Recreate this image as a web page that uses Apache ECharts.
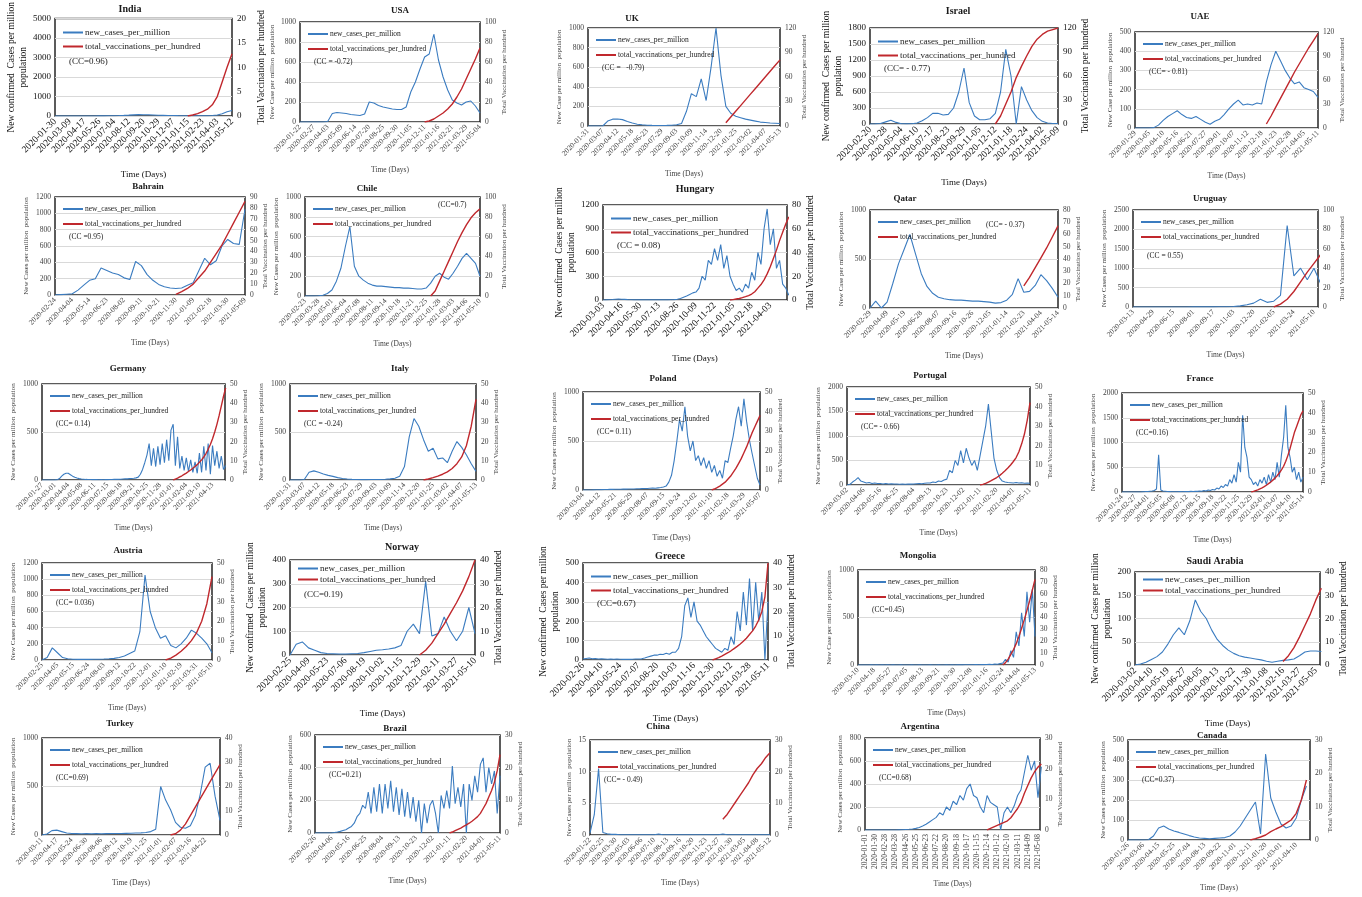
<!DOCTYPE html>
<html><head><meta charset="utf-8">
<script src="https://cdn.jsdelivr.net/npm/echarts@6/dist/echarts.min.js"></script>
<style>html,body{margin:0;padding:0;background:#fff}#c{width:1362px;height:897px}</style>
</head><body><div id="c"></div>
<script>
// ---------------- DATA ----------------
const countries = ['India','USA','UK','Israel','UAE','Bahrain','Chile','Hungary','Qatar','Uruguay','Germany','Italy','Poland','Portugal','France','Austria','Norway','Greece','Mongolia','Saudi Arabia','Turkey','Brazil','China','Argentina','Canada'];

const ticksIndia = ['2020-01-30','2020-03-09','2020-04-17','2020-05-26','2020-07-04','2020-08-12','2020-09-20','2020-10-29','2020-12-07','2021-01-15','2021-02-23','2021-04-03','2021-05-12'];
const casesIndia = [0,0,0, 0,0,0, 1,1,2, 4,6,9, 15,22,32, 45,60,70, 68,64,55, 40,34,28, 23,18,14, 11,10,10, 10,12,22, 50,120,220, 285];
const vaxIndia = [0,0.2,0.5,0.9,1.4,2.3,4,7,10,12.8];

const ticksUSA = ['2020-01-22','2020-02-27','2020-04-03','2020-05-09','2020-06-14','2020-07-20','2020-08-25','2020-09-30','2020-11-05','2020-12-11','2021-01-16','2021-02-21','2021-03-29','2021-05-04'];
const casesUSA = [0,0,0, 0,0,0, 5,85,95, 90,85,75, 70,65,80, 200,190,165, 150,140,130, 125,125,150, 300,400,530, 650,680,880, 620,450,320, 220,190,170, 200,210,160, 90];
const vaxUSA = [0,1,3,6,9,13,18,25,33,43,53,63,74];

const ticksUK = ['2020-01-31','2020-03-07','2020-04-12','2020-05-18','2020-06-23','2020-07-29','2020-09-03','2020-10-09','2020-11-14','2020-12-20','2021-01-25','2021-03-02','2021-04-07','2021-05-13'];
const casesUK = [0,0,0, 0,50,70, 72,65,45, 30,18,12, 8,6,5, 5,6,8, 12,25,150, 330,300,480, 260,600,1000, 520,200,130, 100,85,70, 60,50,40, 35,30,28, 25];
const vaxUK = [4,11,18,25,32,39,46,53,60,67,74,81];

const ticksIsrael = ['2020-02-20','2020-03-28','2020-05-04','2020-06-10','2020-07-17','2020-08-23','2020-09-29','2020-11-05','2020-12-12','2021-01-18','2021-02-24','2021-04-02','2021-05-09'];
const casesIsrael = [0,2,10, 40,70,30, 5,3,5, 20,60,120, 200,200,170, 180,300,600, 1050,400,150, 80,80,100, 200,600,1400, 900,0,700, 450,250,120, 50,20,10, 8];
const vaxIsrael = [0,10,25,40,58,72,85,97,106,112,116,118,120];

const ticksUAE = ['2020-01-29','2020-03-05','2020-04-10','2020-05-16','2020-06-21','2020-07-27','2020-09-01','2020-10-07','2020-11-12','2020-12-18','2021-01-23','2021-02-28','2021-04-05','2021-05-11'];
const casesUAE = [0,0,0, 0,2,15, 40,60,75, 90,70,55, 50,60,45, 30,20,35, 45,70,100, 125,145,120, 125,120,130, 125,240,330, 400,350,300, 260,230,240, 210,200,190, 160];
const vaxUAE = [5,15,26,37,48,59,70,80,90,100,109,118];

const ticksBahrain = ['2020-02-24','2020-04-04','2020-05-14','2020-06-23','2020-08-02','2020-09-11','2020-10-21','2020-11-30','2021-01-09','2021-02-18','2021-03-30','2021-05-09'];
const casesBahrain = [0,5,10, 15,60,120, 180,200,330, 300,270,250, 210,190,410, 360,250,180, 130,100,85, 80,85,120, 150,300,450, 370,420,600, 680,630,620, 1050];
const vaxBahrain = [0.5,3,6,10,16,22,30,38,46,56,66,76,86];

const ticksChile = ['2020-02-23','2020-03-28','2020-05-01','2020-06-04','2020-07-08','2020-08-11','2020-09-14','2020-10-18','2020-11-21','2020-12-25','2021-01-28','2021-03-03','2021-04-06','2021-05-10'];
const casesChile = [0,0,0, 2,8,25, 60,150,280, 500,700,300, 200,160,130, 110,100,100, 95,90,85, 85,80,80, 75,70,70, 80,130,200, 230,190,170, 230,300,380, 430,380,330, 200];
const vaxChile = [0,5,15,25,35,45,55,64,72,79,84,88];

const ticksHungary = ['2020-03-03','2020-04-16','2020-05-30','2020-07-13','2020-08-26','2020-10-09','2020-11-22','2021-01-05','2021-02-18','2021-04-03'];
const casesHungary = [0,1,3,6,10,12, 10,8,5,3,2,2, 2,1,1,1,1,1, 1,1,2,2,3,5, 10,20,35,50,70,90, 100,150,300,250,500,450, 650,500,700,400,560,300, 200,120,150,100,200,150, 350,250,600,450,900,1150, 700,900,400,500,200,150, 60];
const vaxHungary = [0,0.3,0.8,1.3,2,2.8,3.7,5,7,10,13,17,22,28,35,42,50,57,64,70];

const ticksQatar = ['2020-02-29','2020-04-09','2020-05-19','2020-06-28','2020-08-07','2020-09-16','2020-10-26','2020-12-05','2021-01-14','2021-02-23','2021-04-04','2021-05-14'];
const casesQatar = [0,70,0, 60,250,450, 600,750,550, 350,220,150, 110,95,85, 80,80,75, 70,70,65, 60,50,55, 80,140,300, 160,170,230, 340,280,200, 110];
const vaxQatar = [18,25,33,41,49,58,67];

const ticksUruguay = ['2020-03-13','2020-04-29','2020-06-15','2020-08-01','2020-09-17','2020-11-03','2020-12-20','2021-02-05','2021-03-24','2021-05-10'];
const casesUruguay = [0,0,0, 1,1,1, 1,1,1, 2,2,3, 4,5,8, 12,30,60, 100,200,120, 150,300,2100, 800,1000,700, 1000,600];
const vaxUruguay = [0,3,8,16,26,36,45,54];

const ticksGermany = ['2020-01-27','2020-03-01','2020-04-04','2020-05-08','2020-06-11','2020-07-15','2020-08-18','2020-09-21','2020-10-25','2020-11-28','2021-01-01','2021-02-04','2021-03-10','2021-04-13'];
const casesGermany = [0,0,0,0,0,0, 1,3,15,40,60,70, 70,55,40,28,20,14, 10,8,6,5,5,4, 4,4,3,4,3,4, 4,5,5,6,6,7, 8,10,12,12,14,15, 18,22,30,60,110,180, 260,380,150,330,140,350, 160,380,180,420,200,520, 580,150,450,120,250,100, 230,90,210,80,190,70, 280,80,350,100,380,60, 360,150,300,120,250,110, 150];
const vaxGermany = [0,0.5,1,1.6,2.2,2.9,3.6,4.4,5.2,6.1,7,8,9.2,10.5,12,13.8,16,18.5,21.5,25,29,33.5,38.5,43.5,48];

const ticksItaly = ['2020-01-31','2020-03-07','2020-04-12','2020-05-18','2020-06-23','2020-07-29','2020-09-03','2020-10-09','2020-11-14','2020-12-20','2021-01-25','2021-03-02','2021-04-07','2021-05-13'];
const casesItaly = [0,0,0, 5,80,95, 80,62,48, 38,25,15, 10,7,5, 4,4,5, 5,5,8, 12,18,40, 140,450,640, 560,420,300, 330,220,230, 180,300,400, 340,260,170, 90];
const vaxItaly = [0,0.5,1.2,2,3,4.2,6,8.5,12,18,28,42];

const ticksPoland = ['2020-03-04','2020-04-12','2020-05-21','2020-06-29','2020-08-07','2020-09-15','2020-10-24','2020-12-02','2021-01-10','2021-02-18','2021-03-29','2021-05-07'];
const casesPoland = [0,0,0,0,1,2, 3,4,5,5,6,6, 7,8,8,9,9,10, 10,10,12,12,14,15, 16,18,20,18,22,25, 30,40,80,150,300,500, 720,600,850,550,400,500, 300,350,250,330,220,300, 180,250,140,200,120,300, 280,420,550,720,850,650, 930,700,520,380,250,120, 50];
const vaxPoland = [0,0.5,1.2,2,3,4,5.5,7,9,11,13.5,16,19,22,25.5,29,32,35,38];

const ticksPortugal = ['2020-03-02','2020-04-06','2020-05-16','2020-06-25','2020-08-04','2020-09-13','2020-10-23','2020-12-02','2021-01-11','2021-02-20','2021-04-01','2021-05-11'];
const casesPortugal = [0,10,60,100,150,80, 60,40,50,30,40,30, 30,20,30,20,25,20, 20,15,20,15,20,18, 20,25,30,25,35,40, 40,60,50,80,70,100, 120,300,250,500,400,700, 450,750,550,400,500,300, 600,900,1200,1650,1100,550, 300,150,80,60,50,45, 40,50,40,45,35,40, 35];
const vaxPortugal = [0,0.3,0.8,1.5,2.2,3,3.8,4.8,6,7.3,8.7,10.2,12,14,17,21,26,33,42];

const ticksFrance = ['2020-01-24','2020-02-27','2020-04-01','2020-05-05','2020-06-08','2020-07-12','2020-08-15','2020-09-18','2020-10-22','2020-11-25','2020-12-29','2021-02-01','2021-03-07','2021-04-10','2021-05-14'];
const casesFrance = [0,0,0,0,0,0, 0,0,1,2,5,10, 10,15,20,30,60,750, 40,20,15,10,8,6, 5,6,5,8,6,8, 10,8,12,10,15,12, 20,15,30,20,40,30, 50,40,80,60,120,90, 150,120,250,180,350,200, 600,400,1550,900,700,300, 250,150,200,120,250,180, 300,150,350,200,400,250, 600,300,750,1100,1750,900, 700,400,500,250,400,200, 300];
const vaxFrance = [0,0.3,0.7,1.1,1.6,2.1,2.7,3.4,4.2,5,6,7,8.2,9.6,11.2,13,15.5,18.5,22,26,30,33,36,39,41];

const ticksAustria = ['2020-02-25','2020-04-05','2020-05-15','2020-06-24','2020-08-03','2020-09-12','2020-10-22','2020-12-01','2021-01-10','2021-02-19','2021-03-31','2021-05-10'];
const casesAustria = [0,30,150, 90,30,15, 10,8,8, 8,10,10, 12,15,20, 30,50,80, 110,350,1050, 600,400,270, 300,180,150, 200,270,370, 330,270,200, 90];
const vaxAustria = [0,1,2.5,4.5,7,10,14,20,29,43];

const ticksNorway = ['2020-02-25','2020-04-09','2020-05-23','2020-07-06','2020-08-19','2020-10-02','2020-11-15','2020-12-29','2021-02-11','2021-03-27','2021-05-10'];
const casesNorway = [0,45,55, 30,20,10, 6,5,4, 4,5,6, 10,15,20, 22,25,30, 40,100,130, 90,310,80, 90,160,100, 60,100,200, 90];
const vaxNorway = [0,2,5,9,13,17.5,22,27,33,40];

const ticksGreece = ['2020-02-26','2020-04-10','2020-05-24','2020-07-07','2020-08-20','2020-10-03','2020-11-16','2020-12-30','2021-02-12','2021-03-28','2021-05-11'];
const casesGreece = [5,8,10,6,8,5, 6,5,4,5,4,5, 4,3,4,3,4,5, 5,6,10,15,20,25, 25,30,28,35,30,40, 40,60,120,280,320,220, 300,200,180,150,120,100, 80,60,50,40,60,50, 120,80,250,150,350,180, 420,150,400,200,350,0, 300];
const vaxGreece = [0,0.5,1,1.6,2.3,3,3.8,4.7,5.6,6.6,7.7,9,10.5,12,14,16.5,20,26,40];

const ticksMongolia = ['2020-03-10','2020-04-18','2020-05-27','2020-07-05','2020-08-13','2020-09-21','2020-10-30','2020-12-08','2021-01-16','2021-02-24','2021-04-04','2021-05-13'];
const casesMongolia = [0,0,0,0,0,1, 0,1,0,2,0,1, 0,1,0,0,1,0, 0,0,1,0,0,1, 0,0,0,1,0,0, 1,0,0,2,0,1, 0,1,2,1,3,2, 3,2,4,3,5,4, 5,8,6,10,8,15, 20,60,30,150,80,350, 200,550,300,770,450,800, 300];
const vaxMongolia = [0,2,5,9,13,18,24,31,38,46,54,63,72];

const ticksSaudi = ['2020-03-02','2020-04-10','2020-05-19','2020-06-27','2020-08-05','2020-09-13','2020-10-22','2020-11-30','2021-01-08','2021-02-16','2021-03-27','2021-05-05'];
const casesSaudi = [0,2,6, 12,18,28, 45,65,80, 65,95,140, 115,100,75, 55,42,32, 25,20,17, 15,13,11, 8,6,8, 10,11,13, 20,28,30, 30,29];
const vaxSaudi = [1.5,4,7.5,12,17,22,28,33];

const ticksTurkey = ['2020-03-11','2020-04-17','2020-05-24','2020-06-30','2020-08-06','2020-09-12','2020-10-19','2020-11-25','2021-01-01','2021-02-07','2021-03-16','2021-04-22'];
const casesTurkey = [0,10,45, 50,35,20, 15,14,13, 14,13,14, 13,14,15, 15,16,17, 18,20,22, 25,35,60, 500,360,260, 130,80,70, 95,200,420, 700,740,400, 150];
const vaxTurkey = [0,0.5,2,4.5,8,11.5,15,18.5,22,25.5,29];

const ticksBrazil = ['2020-02-26','2020-04-06','2020-05-16','2020-06-25','2020-08-04','2020-09-13','2020-10-23','2020-12-02','2021-01-11','2021-02-20','2021-04-01','2021-05-11'];
const casesBrazil = [0,0,0,0,0,0, 1,3,6,10,15,20, 30,40,60,100,120,170, 150,250,120,280,130,300, 120,300,150,320,130,280, 110,270,100,250,90,220, 70,200,0,180,60,170, 200,120,0,230,150,260, 150,410,180,280,160,300, 0,300,200,350,250,420, 460,250,400,300,380,120, 350];
const vaxBrazil = [0,0.3,0.7,1.1,1.5,2,2.5,3,3.6,4.3,5,6,7.5,9,11,13,15.5,19,24];

const ticksChina = ['2020-01-22','2020-02-25','2020-03-30','2020-05-03','2020-06-06','2020-07-10','2020-08-13','2020-09-16','2020-10-20','2020-11-23','2020-12-27','2021-01-30','2021-03-05','2021-04-08','2021-05-12'];
const casesChina = [0.3,3.2,10.5, 0.4,0.2,0.1, 0.1,0.05,0.05, 0.05,0.05,0.05, 0.05,0.05,0.05, 0.05,0.15,0.05, 0.05,0.05,0.05, 0.05,0.05,0.05, 0.05,0.05,0.05, 0.05,0.05,0.05, 0.05,0.15,0.05, 0.05,0.05,0.05, 0.05,0.05,0.05, 0.05,0.05,0.05, 0.05];
const vaxChina = [5,6.5,8.5,10.5,12.5,14.5,16.5,19,21,22.5,24.5,26];

const ticksArgentina = ['2020-01-01','2020-01-30','2020-02-28','2020-03-28','2020-04-26','2020-05-25','2020-06-23','2020-07-22','2020-08-20','2020-09-18','2020-10-17','2020-11-15','2020-12-14','2021-01-12','2021-02-10','2021-03-11','2021-04-09','2021-05-08'];
const casesArgentina = [0,0,0,0,0,0,0,0,0, 0,1,2,4,6,9,14,22,35, 50,70,90,110,150,130,200,170,250, 220,300,260,360,400,300,280,200,150, 300,240,220,200,0,150,200,150,210, 300,350,500,650,520,600,280,550];
const vaxArgentina = [0,0.5,1,1.5,2,2.5,3,4,5.5,7,9,12,14.5,17,19,20.5,21.5];

const ticksCanada = ['2020-01-26','2020-03-06','2020-04-15','2020-05-25','2020-07-04','2020-08-13','2020-09-22','2020-11-01','2020-12-11','2021-01-20','2021-03-01','2021-04-10'];
const casesCanada = [0,0,0, 0,1,20, 60,70,55, 45,38,30, 22,15,10, 8,6,8, 10,12,20, 40,70,110, 150,190,30, 430,210,140, 80,60,70, 110,200,270];
const vaxCanada = [0,0.4,0.9,1.5,2.5,3.3,4,5,6,8,12,18];

// per-chart lists (same order as countries)
const TICKS = [ticksIndia,ticksUSA,ticksUK,ticksIsrael,ticksUAE,ticksBahrain,ticksChile,ticksHungary,ticksQatar,ticksUruguay,ticksGermany,ticksItaly,ticksPoland,ticksPortugal,ticksFrance,ticksAustria,ticksNorway,ticksGreece,ticksMongolia,ticksSaudi,ticksTurkey,ticksBrazil,ticksChina,ticksArgentina,ticksCanada];
const CASES = [casesIndia,casesUSA,casesUK,casesIsrael,casesUAE,casesBahrain,casesChile,casesHungary,casesQatar,casesUruguay,casesGermany,casesItaly,casesPoland,casesPortugal,casesFrance,casesAustria,casesNorway,casesGreece,casesMongolia,casesSaudi,casesTurkey,casesBrazil,casesChina,casesArgentina,casesCanada];
const VAX = [vaxIndia,vaxUSA,vaxUK,vaxIsrael,vaxUAE,vaxBahrain,vaxChile,vaxHungary,vaxQatar,vaxUruguay,vaxGermany,vaxItaly,vaxPoland,vaxPortugal,vaxFrance,vaxAustria,vaxNorway,vaxGreece,vaxMongolia,vaxSaudi,vaxTurkey,vaxBrazil,vaxChina,vaxArgentina,vaxCanada];
// samples per tick interval, and sample index where the vaccination record begins
const SAMPLES_PER_TICK = [3,3,3,3,3, 3,3,6,3,3, 6,3,6,6,6, 3,3,6,6,3, 3,6,3,3,3];
const VAX_START = [27,27,28,24,28, 21,28,41,27,21, 60,28,48,48,60, 24,21,42,54,27, 26,48,31,36,24];
// how far the record runs past the last labelled date (in tick intervals)
const TAIL = [0,0,0,0,0, 0,0,0.9,0,0.2, 0.95,0,0,0,0, 0,0,0,0,0.25, 1,0,0,0.2,0.9];
const LEFT_MAX  = [5000,1000,1000,1800,500, 1200,1000,1200,1000,2500, 1000,1000,1000,2000,2000, 1200,400,500,1000,200, 1000,600,15,800,500];
const LEFT_STEP = [1000,200,200,300,100, 200,200,300,500,500, 500,500,500,500,500, 200,100,100,500,50, 500,200,5,200,100];
const RIGHT_MAX  = [20,100,120,120,120, 90,100,80,80,100, 50,50,50,50,50, 50,40,40,80,40, 40,30,30,30,30];
const RIGHT_STEP = [5,20,30,30,30, 10,20,20,10,20, 10,10,10,10,10, 10,10,10,10,10, 10,10,10,10,10];
const CC = ['(CC=0.96)','(CC = -0.72)','(CC =   -0.79)','(CC= - 0.77)','(CC= - 0.81)','(CC =0.95)','(CC=0.7)','(CC = 0.08)','(CC= - 0.37)','(CC = 0.55)','(CC= 0.14)','(CC = -0.24)','(CC= 0.11)','(CC= - 0.66)','(CC=0.16)','(CC= 0.036)','(CC=0.19)','(CC=0.67)','(CC=0.45)','','(CC=0.69)','(CC=0.21)','(CC= - 0.49)','(CC=0.68)','(CC=0.37)'];
const NAME_A = 'New confirmed  Cases per million\npopulation';
const NAME_CASE = 'New Case per million  population';
const NAME_CASES = 'New Cases per million  population';
const Y_NAME = [NAME_A,NAME_CASE,NAME_CASE,NAME_A,NAME_CASE, NAME_CASES,NAME_CASES,NAME_A,NAME_CASE,NAME_CASES, NAME_CASES,NAME_CASES,NAME_CASES,NAME_CASES,NAME_CASES, NAME_CASES,NAME_A,NAME_A,NAME_CASE,NAME_A, NAME_CASES,NAME_CASES,NAME_CASES,NAME_CASES,NAME_CASES];
const Y2_NAME = 'Total Vaccination per hundred';
const SERIES_NAMES = ['new_cases_per_million','total_vaccinations_per_hundred'];

// ---------------- LAYOUT ----------------
const BOX = [
 [55,18,232,116],[300,22,480,122],[588,28,780,126],[870,28,1058,124],[1135,32,1318,128],
 [55,197,245,295],[305,197,480,296],[603,205,787,300],[870,210,1058,308],[1133,210,1318,307],
 [42,384,225,480],[290,384,476,480],[583,392,760,490],[847,387,1030,485],[1122,393,1303,492],
 [42,563,212,660],[290,560,475,655],[583,563,768,660],[858,570,1035,665],[1135,572,1320,665],
 [42,738,220,835],[315,735,500,833],[590,740,770,835],[865,738,1040,830],[1128,740,1310,840]];
const TITLE_POS = [[130,10],[400,12],[632,20],[958,12],[1200,18],[148,188],[367,190],[695,190],[905,200],[1210,200],
 [128,370],[400,370],[663,380],[930,377],[1200,380],[128,552],[402,548],[670,557],[918,557],[1215,562],
 [120,725],[395,730],[658,728],[920,728],[1212,737]];
const BIG = [1,0,0,1,0, 0,0,1,0,0, 0,0,0,0,0, 0,1,1,0,1, 0,0,0,0,0];
const LAYOUT_TWEAK = {
  'India':   {legTop:10, ccTop:39, leftGap:-6, rightGap:6},
  'USA':     {leftGap:-3},
  'Norway':  {legTop:4, gap:2, ccTop:30},
  'Saudi Arabia': {legTop:3, gap:2},
  'Chile':   {ccLeftFromRight:42, ccTop:4},
  'Qatar':   {ccLeftFromRight:72, ccTop:11},
  'Uruguay': {ccTop:42}
};
const FONT = '"Liberation Serif","Times New Roman",serif';
const BLUE = '#3b7cc0', RED = '#c0282d';

const option = {animation:false, backgroundColor:'#fff', grid:[], xAxis:[], yAxis:[], series:[], legend:[], title:[]};
countries.forEach((nm, i) => {
  const [l,t,r,b] = BOX[i];
  const big = BIG[i];
  const tw = LAYOUT_TWEAK[nm] || {};
  const fs = big ? 9 : 7.5;
  const xfs = big ? 9.5 : 7.5;
  const tcol = big ? '#111' : '#404040';
  const k = SAMPLES_PER_TICK[i];
  const tk = TICKS[i];
  option.grid.push({left:l, top:t, width:r-l, height:b-t, show:true, borderColor:'#262626', borderWidth:1.5});
  option.xAxis.push({type:'value', gridIndex:i, min:0, max:tk.length-1+TAIL[i], interval:1,
    axisLine:{show:false}, axisTick:{show:false}, splitLine:{show:false},
    axisLabel:{rotate: nm==='Argentina'?90:45, fontSize:xfs, fontFamily:FONT, color:tcol, margin:4,
      formatter:(v)=>{const n=Math.round(v); return (Math.abs(v-n)<1e-6 && n<tk.length) ? tk[n] : '';}},
    name:'Time (Days)', nameLocation:'middle', nameGap: big?54:(nm==='Argentina'?50:44),
    nameTextStyle:{fontSize:fs, fontFamily:FONT, color:tcol}});
  const lw = String(LEFT_MAX[i]).length*fs*0.5 + 4;
  const rw = String(RIGHT_MAX[i]).length*fs*0.5 + 5;
  option.yAxis.push({type:'value', gridIndex:i, position:'left', min:0, max:LEFT_MAX[i], interval:LEFT_STEP[i],
    axisLine:{show:false}, axisTick:{show:false}, splitLine:{show:true, lineStyle:{color:'#d9d9d9', width:1}},
    axisLabel:{fontSize:fs, fontFamily:FONT, color:tcol, margin:4, formatter:(v)=>String(v)},
    name:Y_NAME[i], nameLocation:'middle', nameRotate:90, nameGap: lw + (big?4:5) + (tw.leftGap||0),
    nameTextStyle:{fontSize: big?9.5:7, fontFamily:FONT, color:tcol, lineHeight: big?12:9}});
  option.yAxis.push({type:'value', gridIndex:i, position:'right', min:0, max:RIGHT_MAX[i], interval:RIGHT_STEP[i],
    axisLine:{show:false}, axisTick:{show:false}, splitLine:{show:false},
    axisLabel:{fontSize:fs, fontFamily:FONT, color:tcol, margin:5, formatter:(v)=>String(v)},
    name:Y2_NAME, nameLocation:'middle', nameRotate:90, nameGap: rw + 4 + (tw.rightGap||0),
    nameTextStyle:{fontSize: big?9.5:7, fontFamily:FONT, color:tcol}});
  option.series.push({type:'line', name:SERIES_NAMES[0], xAxisIndex:i, yAxisIndex:2*i,
    data: CASES[i].map((v,j)=>[j/k, v]), symbol:'none', showSymbol:false,
    lineStyle:{color:BLUE, width:1.1}, itemStyle:{color:BLUE}, z:2});
  option.series.push({type:'line', name:SERIES_NAMES[1], xAxisIndex:i, yAxisIndex:2*i+1,
    data: VAX[i].map((v,j)=>[(VAX_START[i]+j)/k, v]), symbol:'none', showSymbol:false,
    lineStyle:{color:RED, width:1.4}, itemStyle:{color:RED}, z:3});
  option.legend.push({left:l+8, top:t+(tw.legTop!=null?tw.legTop:(big?9:8)), orient:'vertical',
    itemGap: tw.gap!=null?tw.gap:(big?5:7), itemWidth:20, itemHeight:2, icon:'rect',
    selectedMode:false, data:SERIES_NAMES, padding:0,
    textStyle:{fontSize:fs, fontFamily:FONT, color:'#222', padding:[0,0,0,-3]}});
  const [tx,ty] = TITLE_POS[i];
  option.title.push({text:nm, left:tx, top:ty-6, textAlign:'center', padding:0,
    textStyle:{fontSize: big?10:9, fontWeight:'bold', fontFamily:FONT, color:'#1a1a1a'}});
  if (CC[i]) {
    const cx = tw.ccLeftFromRight ? r - tw.ccLeftFromRight : l + 14;
    const cy = t + (tw.ccTop!=null ? tw.ccTop : 36);
    option.title.push({text:CC[i], left:cx, top:cy, padding:0,
      textStyle:{fontSize:fs, fontWeight:'normal', fontFamily:FONT, color:'#222'}});
  }
});
const chart = echarts.init(document.getElementById('c'), null, {renderer:'canvas'});
chart.setOption(option);
</script></body></html>
